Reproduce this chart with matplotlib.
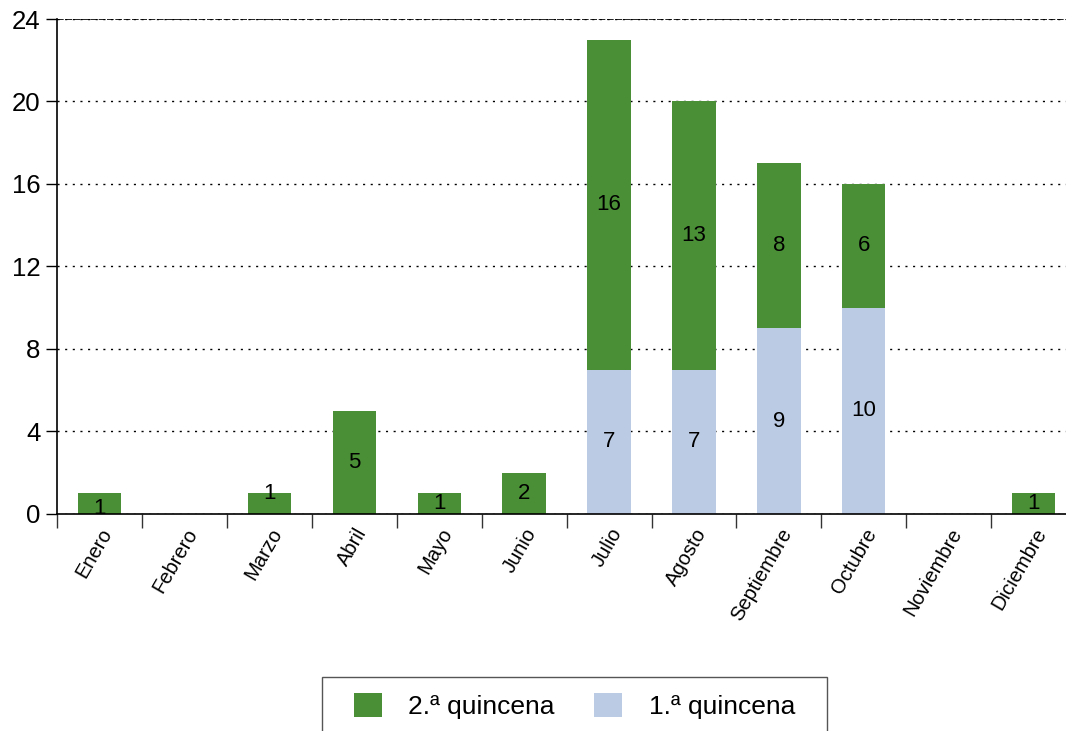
import matplotlib
matplotlib.use("Agg")
import matplotlib.pyplot as plt
from matplotlib.patches import Rectangle
import numpy as np

meses = ["Enero", "Febrero", "Marzo", "Abril", "Mayo", "Junio", "Julio",
         "Agosto", "Septiembre", "Octubre", "Noviembre", "Diciembre"]
primera = [0, 0, 0, 0, 0, 0, 7, 7, 9, 10, 0, 0]
segunda = [1, 0, 1, 5, 1, 2, 16, 13, 8, 6, 0, 1]
y_ticks = [0, 4, 8, 12, 16, 20, 24]

verde = "#4A8F35"
azul = "#BCCBE4"

plt.rcParams.update({
    "font.family": ["Liberation Sans", "DejaVu Sans"],
})

fig = plt.figure(figsize=(10.66, 7.31), dpi=100)
# the plot area runs a little past the right edge of the image, as in the original
ax = fig.add_axes([0.0535, 0.297, 0.956, 0.677])

x = np.arange(len(meses))
w = 0.51
ax.bar(x, primera, w, color=azul, label="1.ª quincena", zorder=2)
ax.bar(x, segunda, w, bottom=primera, color=verde, label="2.ª quincena", zorder=2)

# value labels (two small bars have their labels slightly off-centre in the original)
nudge = {0: -0.25, 2: 0.5}
for i in x:
    if primera[i] > 0:
        ax.text(i, primera[i] / 2, str(primera[i]), ha="center", va="center",
                fontsize=16, zorder=3)
    if segunda[i] > 0:
        ax.text(i, primera[i] + segunda[i] / 2 + nudge.get(i, 0), str(segunda[i]),
                ha="center", va="center", fontsize=16, zorder=3)

ax.set_xlim(-0.5, len(meses) - 0.5)
ax.set_ylim(0, 24)
ax.set_yticks(y_ticks)
ax.tick_params(axis="y", labelsize=18.5, length=8, width=1, pad=4)
ax.set_xticks(x)
ax.set_xticklabels(meses, rotation=60, ha="right", rotation_mode="anchor", fontsize=14.5)
ax.tick_params(axis="x", which="major", length=0, pad=8)
ax.set_xticks(np.arange(-0.5, len(meses), 1), minor=True)
ax.tick_params(axis="x", which="minor", length=10, width=1, color="#333333")

ax.grid(axis="y", color="black", linestyle=(0, (1.5, 4)), linewidth=1, zorder=1)
ax.axhline(24, color="black", linestyle=(0, (4, 1)), linewidth=1.2, zorder=1)
for s in ["top", "right"]:
    ax.spines[s].set_visible(False)
ax.spines["left"].set_linewidth(1.2)
ax.spines["bottom"].set_linewidth(1.2)

h, l = ax.get_legend_handles_labels()
leg = fig.legend(h[::-1], l[::-1], loc="upper center", bbox_to_anchor=(0.539, 0.052),
                 borderaxespad=0, ncol=2, fontsize=19, frameon=False,
                 handlelength=1.05, handleheight=1.05, handletextpad=1.0,
                 columnspacing=1.5, borderpad=0.0)

# legend frame: wider padding left/right than top/bottom
fig.canvas.draw()
bb = leg.get_window_extent()
padx, pady = 32, 16
fig.patches.append(Rectangle((bb.x0 - padx, bb.y0 - pady), bb.width + 2 * padx,
                             bb.height + 2 * pady, transform=None, fill=False,
                             edgecolor="#555555", linewidth=1))

fig.savefig("out.png", dpi=100)
